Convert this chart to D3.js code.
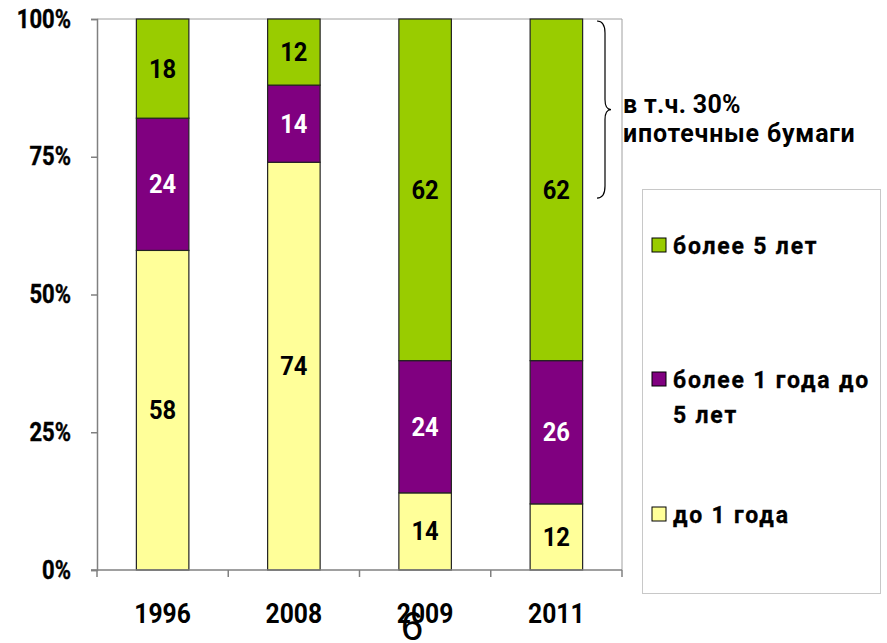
<!DOCTYPE html>
<html>
<head>
<meta charset="utf-8">
<script src="https://cdn.jsdelivr.net/npm/d3@7"></script>
<style>
  body { margin: 0; background: #fff; }
  text { font-family: Roboto, "Liberation Sans", sans-serif; }
</style>
</head>
<body>
<script>
// data (percent shares)
var years = ["1996", "2008", "2009", "2011"];
var upTo1 = [58, 74, 14, 12];
var from1to5 = [24, 14, 24, 26];
var over5 = [18, 12, 62, 62];
var seriesNames = ["до 1 года", "более 1 года до 5 лет", "более 5 лет"];
var yTicks = [0, 25, 50, 75, 100];

var colors = ["#ffff99", "#800080", "#99cc00"];
var labelColors = ["#000", "#fff", "#000"];

var W = 887, H = 643;
var svg = d3.select("body").append("svg").attr("width", W).attr("height", H);

// plot area
var pLeft = 97, pRight = 622, pTop = 19, pBottom = 570;

var x = d3.scaleBand().domain(years).range([pLeft, pRight]).paddingInner(0.6).paddingOuter(0.3);
var xTick = d3.scaleBand().domain(years).range([pLeft, pRight]);
var y = d3.scaleLinear().domain([0, 100]).range([pBottom, pTop]);

// build stacked rows
var rows = years.map(function(yr, i) {
  return {year: yr, k0: upTo1[i], k1: from1to5[i], k2: over5[i]};
});
var layers = d3.stack().keys(["k0", "k1", "k2"])(rows);

// plot frame (top & right)
svg.append("path")
  .attr("d", "M" + pLeft + "," + pTop + "H" + pRight + "V" + pBottom)
  .attr("fill", "none").attr("stroke", "#a0a0a0").attr("stroke-width", 1);

// bars
var g = svg.append("g");
layers.forEach(function(layer, li) {
  g.selectAll(".s" + li).data(layer).enter().append("rect")
    .attr("x", function(d) { return x(d.data.year); })
    .attr("width", x.bandwidth())
    .attr("y", function(d) { return y(d[1]); })
    .attr("height", function(d) { return y(d[0]) - y(d[1]); })
    .attr("fill", colors[li])
    .attr("stroke", "#222").attr("stroke-width", 1.2);
  g.selectAll(".l" + li).data(layer).enter().append("text")
    .attr("class", "sq95")
    .attr("x", function(d) { return x(d.data.year) + x.bandwidth() / 2; })
    .attr("y", function(d) { return (y(d[0]) + y(d[1])) / 2; })
    .attr("dy", "0.36em")
    .attr("text-anchor", "middle")
    .attr("font-size", 25).style("font-weight", "bold")
    .attr("fill", labelColors[li])
    .text(function(d) { return d[1] - d[0]; });
});

// y axis
var yAxis = svg.append("g").attr("transform", "translate(" + pLeft + ",0)")
  .call(d3.axisLeft(y).tickValues(yTicks).tickSize(6).tickPadding(20)
    .tickFormat(function(d) { return d + "%"; }));
yAxis.select(".domain").attr("stroke", "#808080").attr("stroke-width", 1.5);
yAxis.selectAll(".tick line").attr("stroke", "#808080").attr("stroke-width", 1.5);
yAxis.selectAll(".tick text").attr("class", "sq88")
  .attr("font-size", 25).attr("fill", "#000")
  .style("font-family", "Roboto, sans-serif").style("font-weight", "bold")
  .attr("stroke", "#000").attr("stroke-width", 0.4);

// x axis: tick marks at category boundaries
var xAxisG = svg.append("g");
xAxisG.append("line").attr("x1", pLeft - 6).attr("x2", pRight).attr("y1", pBottom).attr("y2", pBottom)
  .attr("stroke", "#808080").attr("stroke-width", 1.5);
xAxisG.selectAll(".xt").data(years.concat(["end"])).enter().append("line")
  .attr("x1", function(d, i) { return pLeft + i * xTick.step(); })
  .attr("x2", function(d, i) { return pLeft + i * xTick.step(); })
  .attr("y1", pBottom).attr("y2", pBottom + 7)
  .attr("stroke", "#808080").attr("stroke-width", 1.5);
xAxisG.selectAll(".xl").data(years).enter().append("text")
  .attr("class", "sq88")
  .attr("x", function(d) { return x(d) + x.bandwidth() / 2; })
  .attr("y", 623)
  .attr("text-anchor", "middle")
  .attr("font-size", 28).style("font-weight", "bold")
  .text(function(d) { return d; });

// brace annotation
var bx = 597, by0 = y(100) + 2, by1 = y(67.5), bm = (by0 + by1) / 2;
svg.append("path")
  .attr("d", "M" + bx + "," + by0 + " Q" + (bx + 8) + "," + by0 + " " + (bx + 8) + "," + (by0 + 12) +
    " L" + (bx + 8) + "," + (bm - 10) + " Q" + (bx + 8) + "," + bm + " " + (bx + 14) + "," + bm +
    " Q" + (bx + 8) + "," + bm + " " + (bx + 8) + "," + (bm + 10) +
    " L" + (bx + 8) + "," + (by1 - 12) + " Q" + (bx + 8) + "," + by1 + " " + bx + "," + by1)
  .attr("fill", "none").attr("stroke", "#000").attr("stroke-width", 1.2);
svg.append("text").attr("x", 623).attr("y", 113).attr("font-size", 25).style("font-weight", "bold")
  .attr("letter-spacing", 0.3).text("в т.ч. 30%");
svg.append("text").attr("x", 623).attr("y", 142).attr("font-size", 25).style("font-weight", "bold")
  .attr("letter-spacing", 0.8).text("ипотечные бумаги");

// legend
svg.append("rect").attr("x", 642.5).attr("y", 189.5).attr("width", 238).attr("height", 404)
  .attr("fill", "#fff").attr("stroke", "#c8c8c8");
var legendItems = [
  {i: 2, lines: ["более 5 лет"], base: 254},
  {i: 1, lines: ["более 1 года до", "5 лет"], base: 388},
  {i: 0, lines: ["до 1 года"], base: 523}
];
legendItems.forEach(function(it) {
  svg.append("rect").attr("x", 652).attr("y", it.base - 16).attr("width", 14).attr("height", 14)
    .attr("fill", colors[it.i]).attr("stroke", "#000").attr("stroke-width", 1);
  it.lines.forEach(function(t, k) {
    svg.append("text").attr("x", 673).attr("y", it.base + k * 35)
      .attr("font-size", 23).style("font-weight", "bold").attr("letter-spacing", 1.8)
      .attr("stroke", "#000").attr("stroke-width", 0.3).text(t);
  });
});

// slide number
svg.append("text").attr("x", 412).attr("y", 640).attr("text-anchor", "middle")
  .attr("font-size", 40).style("font-family", "'Liberation Sans', Arial, sans-serif")
  .text("6");

// condensed look for numeric labels
function squeeze(sel, k) {
  svg.selectAll(sel).each(function() {
    var len = this.getComputedTextLength();
    d3.select(this).attr("textLength", len * k).attr("lengthAdjust", "spacingAndGlyphs");
  });
}
squeeze("text.sq88", 0.88);
squeeze("text.sq95", 0.95);
</script>
</body>
</html>
